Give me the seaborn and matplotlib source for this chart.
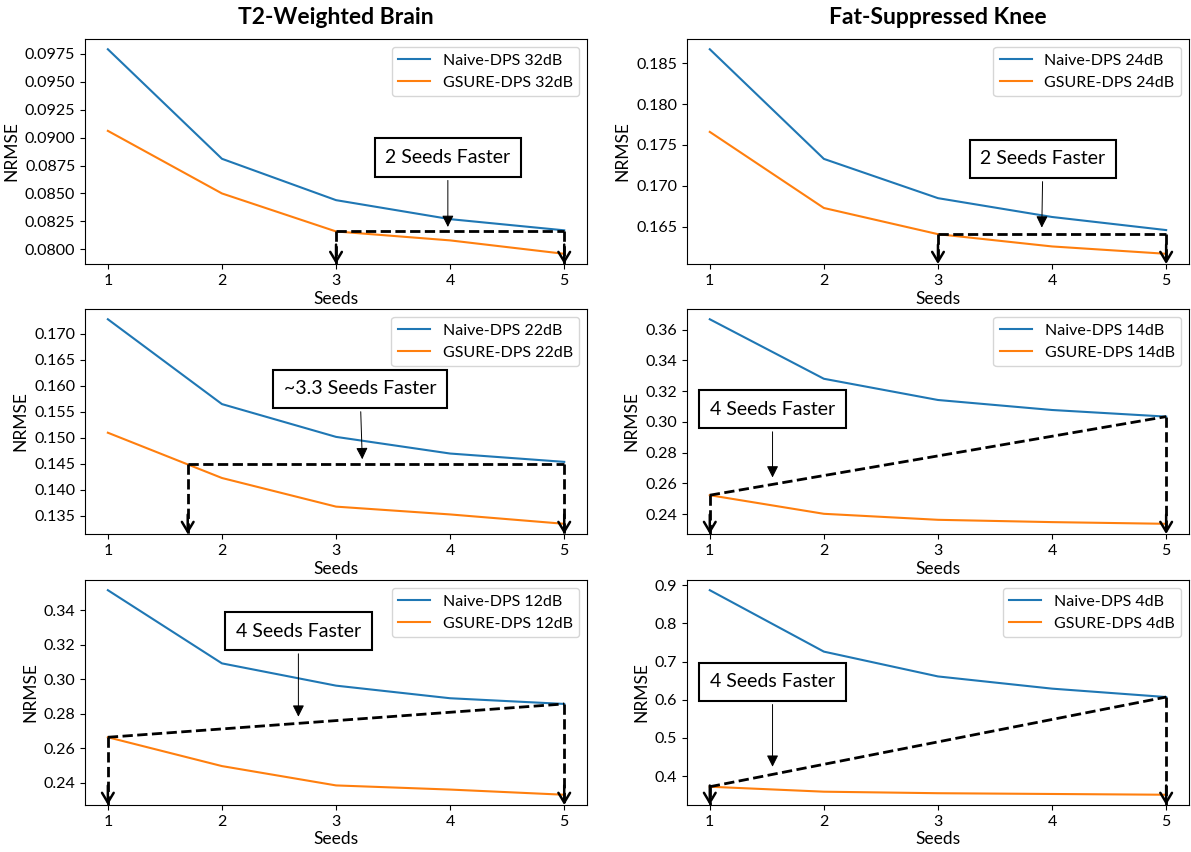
import matplotlib
matplotlib.use("Agg")
import matplotlib.pyplot as plt
import numpy as np
import pandas as pd
import seaborn as sns

plt.rcParams['font.family'] = ['Lato', 'DejaVu Sans']

seeds = [1, 2, 3, 4, 5]

# brain column
brain_32_naive = [0.0979, 0.0881, 0.0844, 0.0827, 0.0817]
brain_32_gsure = [0.0906, 0.0850, 0.0816, 0.0808, 0.0796]
brain_22_naive = [0.1728, 0.1565, 0.1502, 0.1470, 0.1454]
brain_22_gsure = [0.1510, 0.1423, 0.1368, 0.1353, 0.1335]
brain_12_naive = [0.3516, 0.3092, 0.2963, 0.2890, 0.2857]
brain_12_gsure = [0.2664, 0.2497, 0.2385, 0.2361, 0.2331]

# knee column
knee_24_naive = [0.1867, 0.1733, 0.1685, 0.1662, 0.1646]
knee_24_gsure = [0.1766, 0.1673, 0.1641, 0.1626, 0.1617]
knee_14_naive = [0.3667, 0.3280, 0.3142, 0.3077, 0.3034]
knee_14_gsure = [0.2523, 0.2402, 0.2363, 0.2348, 0.2337]
knee_4_naive = [0.887, 0.726, 0.661, 0.629, 0.607]
knee_4_gsure = [0.372, 0.359, 0.355, 0.353, 0.351]

col_titles = ['T2-Weighted Brain', 'Fat-Suppressed Knee']
noise_labels = [['32dB', '24dB'], ['22dB', '14dB'], ['12dB', '4dB']]
speedup = [[2, 2], [3.3, 4], [4, 4]]
speedup_text = [['2 Seeds Faster', '2 Seeds Faster'],
                ['~3.3 Seeds Faster', '4 Seeds Faster'],
                ['4 Seeds Faster', '4 Seeds Faster']]

yticks_brain_32 = [0.0800, 0.0825, 0.0850, 0.0875, 0.0900, 0.0925, 0.0950, 0.0975]
yticks_brain_22 = [0.135, 0.140, 0.145, 0.150, 0.155, 0.160, 0.165, 0.170]
yticks_brain_12 = [0.24, 0.26, 0.28, 0.30, 0.32, 0.34]
yticks_knee_24 = [0.165, 0.170, 0.175, 0.180, 0.185]
yticks_knee_14 = [0.24, 0.26, 0.28, 0.30, 0.32, 0.34, 0.36]
yticks_knee_4 = [0.4, 0.5, 0.6, 0.7, 0.8, 0.9]

panels = [
    [(brain_32_naive, brain_32_gsure, yticks_brain_32), (knee_24_naive, knee_24_gsure, yticks_knee_24)],
    [(brain_22_naive, brain_22_gsure, yticks_brain_22), (knee_14_naive, knee_14_gsure, yticks_knee_14)],
    [(brain_12_naive, brain_12_gsure, yticks_brain_12), (knee_4_naive, knee_4_gsure, yticks_knee_4)],
]

# annotation box placement: box centre and arrow tip, in data coords
box_place = [
    [((3.98, 0.0882), (3.98, 0.0820)), ((3.92, 0.1733), (3.91, 0.1649))],
    [((3.21, 0.1594), (3.23, 0.1459)), ((1.55, 0.3083), (1.55, 0.2638))],
    [((2.67, 0.3279), (2.67, 0.2783)), ((1.55, 0.647), (1.55, 0.4243))],
]

fig = plt.figure(figsize=(11.91, 8.52), dpi=100)
col_left = [0.0714, 0.5768]
row_bottom = [0.6901, 0.3732, 0.0552]
ax_w, ax_h = 0.4215, 0.2641

blue, orange = '#1f77b4', '#ff7f0e'

for r in range(3):
    for c in range(2):
        ax = fig.add_axes([col_left[c], row_bottom[r], ax_w, ax_h])
        naive, gsure, yticks = panels[r][c]
        df = pd.DataFrame({'Seeds': seeds * 2,
                           'NRMSE': naive + gsure,
                           'method': ['Naive-DPS ' + noise_labels[r][c]] * 5 + ['GSURE-DPS ' + noise_labels[r][c]] * 5})
        sns.lineplot(data=df, x='Seeds', y='NRMSE', hue='method', palette=[blue, orange],
                     ax=ax, linewidth=1.5)
        ax.legend(loc='upper right', fontsize=11.5)
        ax.set_xticks(seeds)
        ax.set_yticks(yticks)
        ax.tick_params(labelsize=11.5)
        ax.set_xlabel('Seeds', fontsize=12.5, labelpad=2)
        ax.set_ylabel('NRMSE', fontsize=12.5)
        ylo, yhi = ax.get_ylim()
        ax.set_ylim(ylo, yhi)

        # bracket: GSURE reaches naive's final error this many seeds earlier
        x0 = seeds[-1] - speedup[r][c]
        y0 = float(np.interp(x0, seeds, gsure))
        if speedup[r][c] < 4:
            p0, p1 = (x0, y0), (seeds[-1], y0)
        else:
            p0, p1 = (x0, y0), (seeds[-1], naive[-1])
        ax.plot([p0[0], p1[0]], [p0[1], p1[1]], ls='--', color='black', lw=2)
        for px, py in (p0, p1):
            ax.plot([px, px], [py, ylo], ls='--', color='black', lw=2)
            ax.annotate('', xy=(px, ylo), xytext=(0, 14), textcoords='offset points',
                        arrowprops=dict(arrowstyle='->,head_width=0.3,head_length=0.5',
                                        color='black', lw=1.8, mutation_scale=14,
                                        shrinkA=0, shrinkB=0))
        (bx, by), (tx, ty) = box_place[r][c]
        ax.annotate(speedup_text[r][c], xy=(tx, ty), xytext=(bx, by),
                    ha='center', va='center', fontsize=14,
                    bbox=dict(boxstyle='square,pad=0.55', fc='white', ec='black', lw=1.5),
                    arrowprops=dict(arrowstyle='-|>,head_width=0.25,head_length=0.5',
                                    color='black', lw=0.7, mutation_scale=14, shrinkB=0))
        if r == 0:
            ax.set_title(col_titles[c], fontsize=16.5, fontweight='bold', pad=11)

fig.savefig('out.png', dpi=100)
